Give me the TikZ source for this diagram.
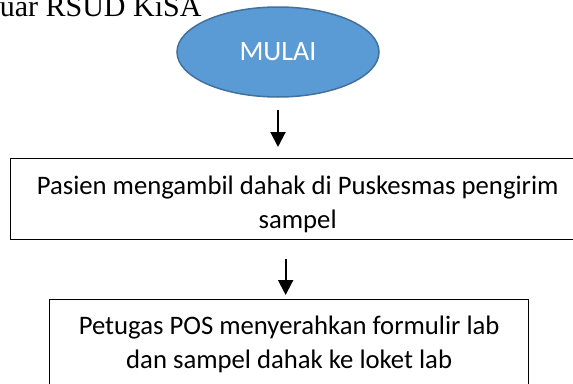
\documentclass[tikz,border=0pt]{standalone}
\usepackage{fontspec}
\setmainfont{Carlito}
\newfontfamily\titlefont{Liberation Serif}
\usetikzlibrary{shapes, arrows.meta, positioning}
\definecolor{mulaiblue}{HTML}{5B9BD5}
\definecolor{mulaiedge}{HTML}{41719C}

\begin{document}
\begin{tikzpicture}[x=1pt, y=1pt,
  start/.style={ellipse, draw=mulaiedge, line width=1.5pt, fill=mulaiblue, text=white,
    minimum width=202pt, minimum height=90pt, inner sep=0pt, font=\fontsize{28}{34}\selectfont},
  stepbox/.style={draw, line width=1.3pt, anchor=north west, align=center, inner sep=0pt,
    font=\fontsize{26.7}{34}\selectfont},
  arr/.style={line width=2pt, -{Triangle[length=15pt, width=15pt]}}]
 \path[use as bounding box, clip] (0,0) rectangle (573,-383);
 \node[anchor=base east, font=\titlefont\fontsize{30}{36}\selectfont] (title) at (205,-16) {uar RSUD KiSA};
 \node[start] (mulai) at (278,-52) {MULAI};
 \node[stepbox, minimum width=574pt, minimum height=81pt] (box1) at (10,-158)
   {\rule{0pt}{28pt}Pasien mengambil dahak di Puskesmas pengirim\\sampel};
 \node[stepbox, minimum width=479pt, minimum height=90pt] (box2) at (49,-299)
   {Petugas POS menyerahkan formulir lab\\dan sampel dahak ke loket lab};
 \draw[arr, shorten <=12pt, shorten >=11pt] (mulai.south) -- (mulai.south |- box1.north);
 \draw[arr, shorten <=19pt, shorten >=4pt] ([xshift=-12pt]box1.south) -- ([xshift=-12pt]box1.south |- box2.north);
\end{tikzpicture}
\end{document}
